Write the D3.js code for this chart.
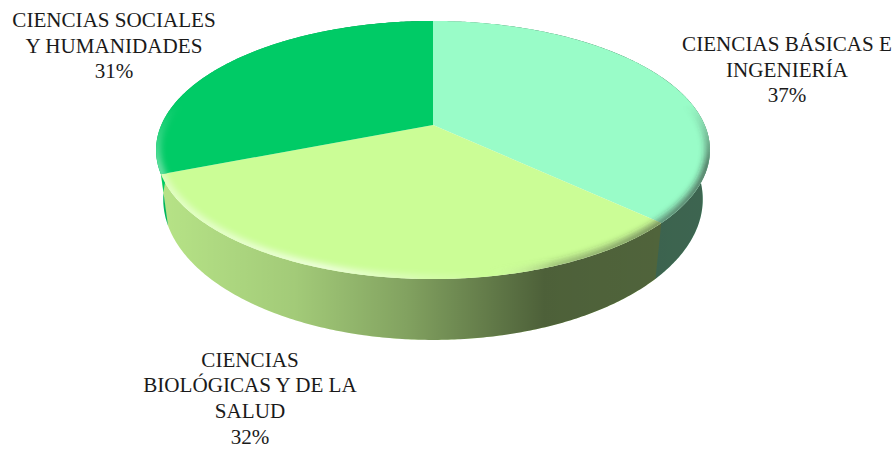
<!DOCTYPE html>
<html>
<head>
<meta charset="utf-8">
<script src="https://cdn.jsdelivr.net/npm/d3@7"></script>
<style>
  html, body { margin: 0; padding: 0; background: #fff; }
  text { font-family: "Liberation Serif", serif; font-size: 21.1px; fill: #1a1a1a; text-anchor: middle; }
</style>
</head>
<body>
<div id="chart"></div>
<script>
const categories = ['CIENCIAS BÁSICAS E INGENIERÍA', 'CIENCIAS BIOLÓGICAS Y DE LA SALUD', 'CIENCIAS SOCIALES Y HUMANIDADES'];
const values = [37, 32, 31];
const colors = ['#99FCC8', '#CBFD96', '#00CB66'];
const labelLines = [
  ['CIENCIAS BÁSICAS E', 'INGENIERÍA'],
  ['CIENCIAS', 'BIOLÓGICAS Y DE LA', 'SALUD'],
  ['CIENCIAS SOCIALES', 'Y HUMANIDADES']
];
const labelPos = [[787, 51], [250, 366.5], [114, 27]];

const width = 896, height = 450;
const cx = 433, cy = 125;   // vertice del pie
const k = 0.1938, w = 271.7, h = 124.2;  // perspectiva
const bottomX = 0.974, bottomY = 1.09, depth = 47;

const svg = d3.select('#chart').append('svg')
  .attr('width', width)
  .attr('height', height)
  .style('display', 'block');

// angulo -> punto del borde superior
const topPt = a => {
  const u = Math.sin(a), v = -Math.cos(a), d = 1 - k * v;
  return [cx + w * u / d, cy + h * v / d];
};
const botPt = a => {
  const p = topPt(a);
  return [cx + bottomX * (p[0] - cx), cy + depth + bottomY * (p[1] - cy)];
};
const arcAngles = (a0, a1) => {
  const n = Math.ceil((a1 - a0) / 0.01);
  return d3.range(n + 1).map(i => a0 + (a1 - a0) * i / n);
};
const sidePath = (a0, a1) => {
  const as = arcAngles(a0, a1);
  return line(as.map(topPt).concat(as.slice().reverse().map(botPt))) + 'Z';
};

const line = d3.line();
const slices = d3.pie().sort(null).value(d => d)(values);
const defs = svg.append('defs');

const sideShade = defs.append('linearGradient')
  .attr('id', 'sideShade')
  .attr('gradientUnits', 'userSpaceOnUse')
  .attr('x1', 157).attr('x2', 710).attr('y1', 0).attr('y2', 0);
[[0, .1], [.25, .2], [.45, .36], [.7, .62], [1, .6]].forEach(s => {
  sideShade.append('stop').attr('offset', s[0]).attr('stop-color', '#000').attr('stop-opacity', s[1]);
});

const rimShade = defs.append('linearGradient')
  .attr('id', 'rimShade')
  .attr('gradientUnits', 'userSpaceOnUse')
  .attr('x1', 157).attr('x2', 710).attr('y1', 0).attr('y2', 0);
[['#fff', 0, .42], ['#fff', .3, .7], ['#fff', .5, .2], ['#fff', .6, 0], ['#333', .72, .3], ['#222', 1, .65]].forEach(s => {
  rimShade.append('stop').attr('offset', s[1]).attr('stop-color', s[0]).attr('stop-opacity', s[2]);
});

defs.append('filter').attr('id', 'soft')
  .attr('x', '-10%').attr('y', '-10%').attr('width', '120%').attr('height', '120%')
  .append('feGaussianBlur').attr('stdDeviation', 3);

defs.append('clipPath').attr('id', 'topClip')
  .append('path')
  .attr('d', line(arcAngles(0, 2 * Math.PI).map(topPt)) + 'Z');

// el bisel se desvanece hacia el fondo del disco
const rimFade = defs.append('linearGradient')
  .attr('id', 'rimFade')
  .attr('gradientUnits', 'userSpaceOnUse')
  .attr('x1', 0).attr('x2', 0).attr('y1', 105).attr('y2', 165);
rimFade.append('stop').attr('offset', 0).attr('stop-color', '#000');
rimFade.append('stop').attr('offset', 1).attr('stop-color', '#fff');
defs.append('mask').attr('id', 'rimMask')
  .attr('maskUnits', 'userSpaceOnUse')
  .attr('x', 0).attr('y', 0).attr('width', width).attr('height', height)
  .append('rect')
  .attr('width', width).attr('height', height)
  .attr('fill', 'url(#rimFade)');

// pared lateral
const side = svg.append('g');
slices.forEach((d, i) => {
  side.append('path')
    .attr('d', sidePath(d.startAngle, d.endAngle + 0.006))
    .attr('fill', colors[i]);
});
side.append('path')
  .attr('d', sidePath(0, 2 * Math.PI))
  .attr('fill', 'url(#sideShade)');

// cara superior
const face = svg.append('g');
slices.forEach((d, i) => {
  const pts = [[cx, cy]].concat(arcAngles(d.startAngle, d.endAngle).map(topPt));
  face.append('path')
    .attr('d', line(pts) + 'Z')
    .attr('fill', colors[i]);
});

// bisel del borde
svg.append('g')
  .attr('clip-path', 'url(#topClip)')
  .append('g')
  .attr('mask', 'url(#rimMask)')
  .append('path')
  .attr('d', line(arcAngles(1.2, 5.1).map(topPt)))
  .attr('fill', 'none')
  .attr('stroke', 'url(#rimShade)')
  .attr('stroke-width', 9)
  .attr('filter', 'url(#soft)');

// etiquetas
slices.forEach((d, i) => {
  const t = svg.append('text').attr('aria-label', categories[i]);
  labelLines[i].concat(values[i] + '%').forEach((s, j) => {
    t.append('tspan')
      .attr('x', labelPos[i][0])
      .attr('y', labelPos[i][1] + j * 25.7)
      .text(s);
  });
});
</script>
</body>
</html>
